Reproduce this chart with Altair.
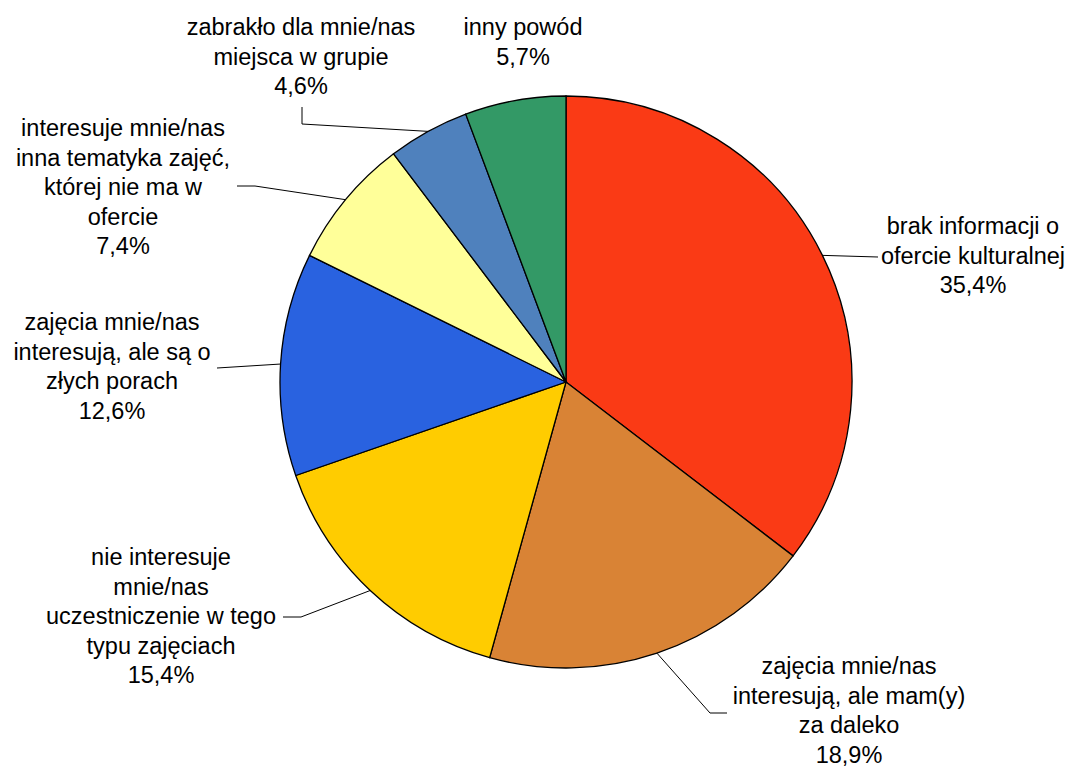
import math
import altair as alt
import pandas as pd

# ---- data ----
categories = [
    "brak informacji o\nofercie kulturalnej",
    "zajęcia mnie/nas\ninteresują, ale mam(y)\nza daleko",
    "nie interesuje\nmnie/nas\nuczestniczenie w tego\ntypu zajęciach",
    "zajęcia mnie/nas\ninteresują, ale są o\nzłych porach",
    "interesuje mnie/nas\ninna tematyka zajęć,\nktórej nie ma w\nofercie",
    "zabrakło dla mnie/nas\nmiejsca w grupie",
    "inny powód",
]
values = [35.4, 18.9, 15.4, 12.6, 7.4, 4.6, 5.7]
colors = ["#FA3A15", "#D98335", "#FFCC00", "#2962E0", "#FFFF99", "#4F81BD", "#339966"]

# ---- layout (pixels relative to pie centre, y up) ----
W, H = 1059, 760
CX, CY = 558, 374          # pie centre inside the view
R = 286                    # pie radius
FONT = 23.5
LINE_H = 29.5

# label anchor: text centre x, first-line baseline y (picture pixel coords)
label_pos = [(973, 234), (849, 674), (161, 565), (112, 330), (123, 136), (301, 35), (523, 35)]
# leader line elbow and end (picture pixel coords); None = no leader
leader_pts = [
    [(878, 257)],
    [(710, 713), (727, 713)],
    [(301, 617), (283, 617)],
    [(217, 368)],
    [(255, 186), (237, 186)],
    [(302, 124), (302, 107)],
    None,
]


def to_rel(px, py):
    return px - 8 - CX, CY - (py - 8)


xscale = alt.Scale(domain=[-CX, W - CX], nice=False, zero=False)
yscale = alt.Scale(domain=[-(H - CY), CY], nice=False, zero=False)

df = pd.DataFrame({
    "category": categories,
    "value": values,
    "idx": list(range(len(values))),
})

# text table
lab_rows = []
for i, (c, v) in enumerate(zip(categories, values)):
    rx, ry = to_rel(*label_pos[i])
    lab_rows.append({
        "text": c + "\n" + f"{v:.1f}".replace(".", ",") + "%",
        "lx": rx, "ly": ry,
    })
lab_df = pd.DataFrame(lab_rows)

# leader lines: start at slice edge on the mid angle (computed from the data)
total = sum(values)
line_rows = []
cum = 0.0
for i, v in enumerate(values):
    mid = cum + v / 2
    cum += v
    if leader_pts[i] is None:
        continue
    ang = 2 * math.pi * mid / total
    pts = [(R * math.sin(ang), R * math.cos(ang))] + [to_rel(*p) for p in leader_pts[i]]
    for k, (x, y) in enumerate(pts):
        line_rows.append({"lid": i, "k": k, "x": x, "y": y})
line_df = pd.DataFrame(line_rows)

pie = alt.Chart(df).mark_arc(outerRadius=R, stroke="black", strokeWidth=1.3).encode(
    theta=alt.Theta("value:Q", stack=True),
    color=alt.Color("category:N", scale=alt.Scale(domain=categories, range=colors), legend=None),
    order=alt.Order("idx:Q"),
    x=alt.X(datum=0, type="quantitative", scale=xscale, axis=None),
    y=alt.Y(datum=0, type="quantitative", scale=yscale, axis=None),
)

leaders = alt.Chart(line_df).mark_line(color="black", strokeWidth=1).encode(
    x=alt.X("x:Q", scale=xscale, axis=None),
    y=alt.Y("y:Q", scale=yscale, axis=None),
    detail="lid:N",
    order="k:Q",
)

labels = alt.Chart(lab_df).mark_text(
    font="Liberation Sans", fontSize=FONT, lineBreak="\n", lineHeight=LINE_H,
    align="center", baseline="alphabetic", color="black",
).encode(
    x=alt.X("lx:Q", scale=xscale, axis=None),
    y=alt.Y("ly:Q", scale=yscale, axis=None),
    text="text:N",
)

chart = alt.layer(pie, leaders, labels).properties(
    width=W, height=H, padding=0,
    autosize=alt.AutoSizeParams(type="none"),
).configure(background="white").configure_view(stroke=None, strokeWidth=0)

chart.save("out.html", embed_options={"renderer": "svg", "actions": False})
